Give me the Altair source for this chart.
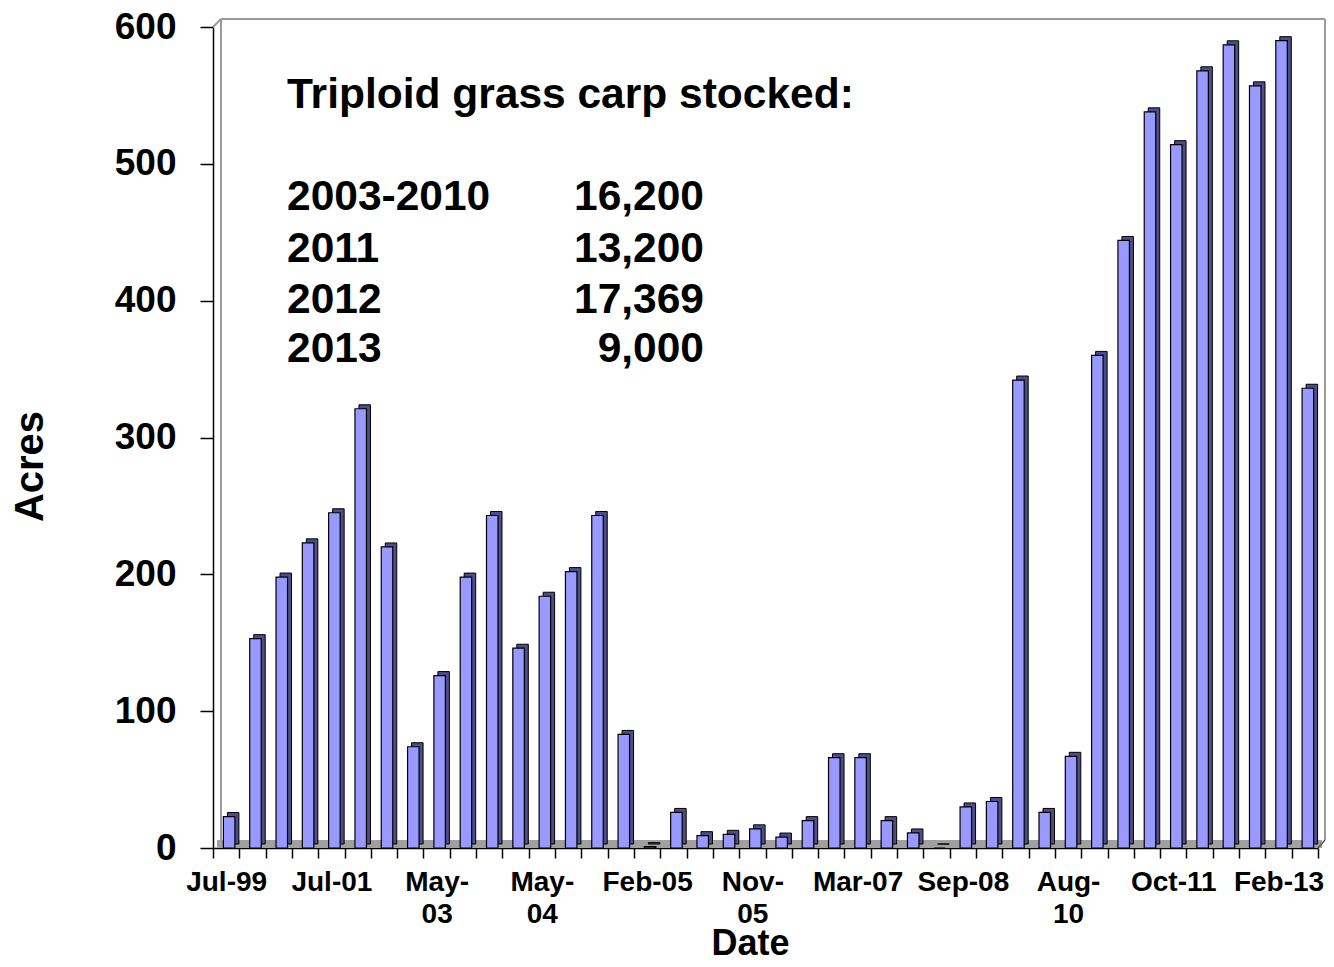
import json
import altair as alt
import pandas as pd

# ---- data ----
values = [23, 153, 198, 223, 245, 321, 220, 74, 126, 198, 243, 146, 184, 202,
          243, 83, 1, 26, 9, 10, 14, 8, 20, 66, 66, 20, 11, 0, 30, 34, 342,
          26, 67, 360, 444, 538, 514, 568, 587, 557, 590, 336]
tick_labels = ["Jul-99", "", "", "", "Jul-01", "", "", "", "May-\n03", "", "", "",
               "May-\n04", "", "", "", "Feb-05", "", "", "", "Nov-\n05", "", "", "",
               "Mar-07", "", "", "", "Sep-08", "", "", "", "Aug-\n10", "", "", "",
               "Oct-11", "", "", "", "Feb-13", ""]
y_ticks = [0, 100, 200, 300, 400, 500, 600]
note_title = "Triploid grass carp stocked:"
note_years = ["2003-2010", "2011", "2012", "2013"]
note_counts = ["16,200", "13,200", "17,369", "9,000"]

# ---- layout ----
W, H = 1105, 821
FONT = "Liberation Sans"
DX, DY = 8, -8  # depth of the 3D back wall

df = pd.DataFrame({"idx": list(range(len(values))), "acres": values})
one = pd.DataFrame({"k": [0]})

label_arrays = [s.split("\n") if s else "" for s in tick_labels]
label_expr = json.dumps(label_arrays) + "[datum.value]"

x_enc = alt.X("idx:O", title="Date",
              scale=alt.Scale(paddingInner=0, paddingOuter=0),
              axis=alt.Axis(labelExpr=label_expr, labelAngle=0, labelOverlap=False,
                            labelBound=False, labelFlush=False,
                            labelFont=FONT, labelFontSize=28, labelFontWeight="bold",
                            labelColor="black", labelLineHeight=32, labelPadding=10,
                            tickBand="extent", tickSize=10, tickColor="black", tickWidth=1.5,
                            domainColor="black", domainWidth=1.5,
                            titleFont=FONT, titleFontSize=36, titleFontWeight="bold",
                            titleColor="black", titleX=537, titleY=106,
                            titleBaseline="alphabetic", titleAlign="center"))
y_enc = alt.Y("acres:Q", title="Acres",
              scale=alt.Scale(domain=[0, 600], nice=False),
              axis=alt.Axis(values=y_ticks, grid=False,
                            labelFont=FONT, labelFontSize=37, labelFontWeight="bold",
                            labelColor="black", labelPadding=24,
                            tickSize=13, tickColor="black", tickWidth=1.5,
                            domainColor="black", domainWidth=1.5,
                            titleFont=FONT, titleFontSize=40, titleFontWeight="bold",
                            titleColor="black", titleX=-183, titleY=439,
                            titleBaseline="middle", titleAlign="center", titleAngle=270))

wall_color = "#9a9a9a"
floor = alt.Chart(one).mark_rect(color="#a0a0a0").encode(
    x=alt.value(4), x2=alt.value(W + 4), y=alt.value(H - 8), y2=alt.value(H))
wall_left = alt.Chart(one).mark_rule(color=wall_color, strokeWidth=2).encode(
    x=alt.value(DX), y=alt.value(DY), y2=alt.value(H + DY))
wall_top = alt.Chart(one).mark_rule(color=wall_color, strokeWidth=2).encode(
    x=alt.value(DX), x2=alt.value(W + DX - 1), y=alt.value(DY))
wall_right = alt.Chart(one).mark_rule(color=wall_color, strokeWidth=2).encode(
    x=alt.value(W + DX - 1), y=alt.value(DY), y2=alt.value(H + DY))
diag_tl = alt.Chart(one).mark_rule(color=wall_color, strokeWidth=2).encode(
    x=alt.value(0), x2=alt.value(DX), y=alt.value(0), y2=alt.value(DY))
diag_br = alt.Chart(one).mark_rule(color="#555555", strokeWidth=1.5).encode(
    x=alt.value(W), x2=alt.value(W + DX - 1), y=alt.value(H), y2=alt.value(H + DY))

base = alt.Chart(df).encode(x=x_enc, y=y_enc)
shadow = base.mark_bar(size=11.5, xOffset=7, yOffset=-4, color="#4d4d8a",
                       stroke="black", strokeWidth=1)
front = base.mark_bar(size=11.5, xOffset=3, color="#9999ff",
                      stroke="black", strokeWidth=1.2)

ann_rows = ([{"t": note_title, "x": 74, "y": 81, "a": "left"}] +
            [{"t": t, "x": 74, "y": yy, "a": "left"} for t, yy in zip(note_years, [183, 235, 286, 335])] +
            [{"t": t, "x": 491, "y": yy, "a": "right"} for t, yy in zip(note_counts, [183, 235, 286, 335])])
ann_df = pd.DataFrame(ann_rows)
ann_left = alt.Chart(ann_df[ann_df.a == "left"]).mark_text(
    font=FONT, fontSize=42.5, fontWeight="bold", color="black", align="left",
    baseline="alphabetic").encode(text="t:N", x=alt.X("x:Q", scale=None), y=alt.Y("y:Q", scale=None))
ann_right = alt.Chart(ann_df[ann_df.a == "right"]).mark_text(
    font=FONT, fontSize=42.5, fontWeight="bold", color="black", align="right",
    baseline="alphabetic").encode(text="t:N", x=alt.X("x:Q", scale=None), y=alt.Y("y:Q", scale=None))

chart = alt.layer(floor, wall_left, wall_top, wall_right, diag_tl, diag_br,
                  shadow, front, ann_left, ann_right).resolve_scale(
    x="shared", y="shared").properties(
    width=W, height=H,
    autosize=alt.AutoSizeParams(type="none"),
    padding={"left": 205, "top": 19, "right": 8, "bottom": 111},
    background="white",
).configure_view(stroke=None)

chart.save("out.html", embed_options={"renderer": "svg", "actions": False})
